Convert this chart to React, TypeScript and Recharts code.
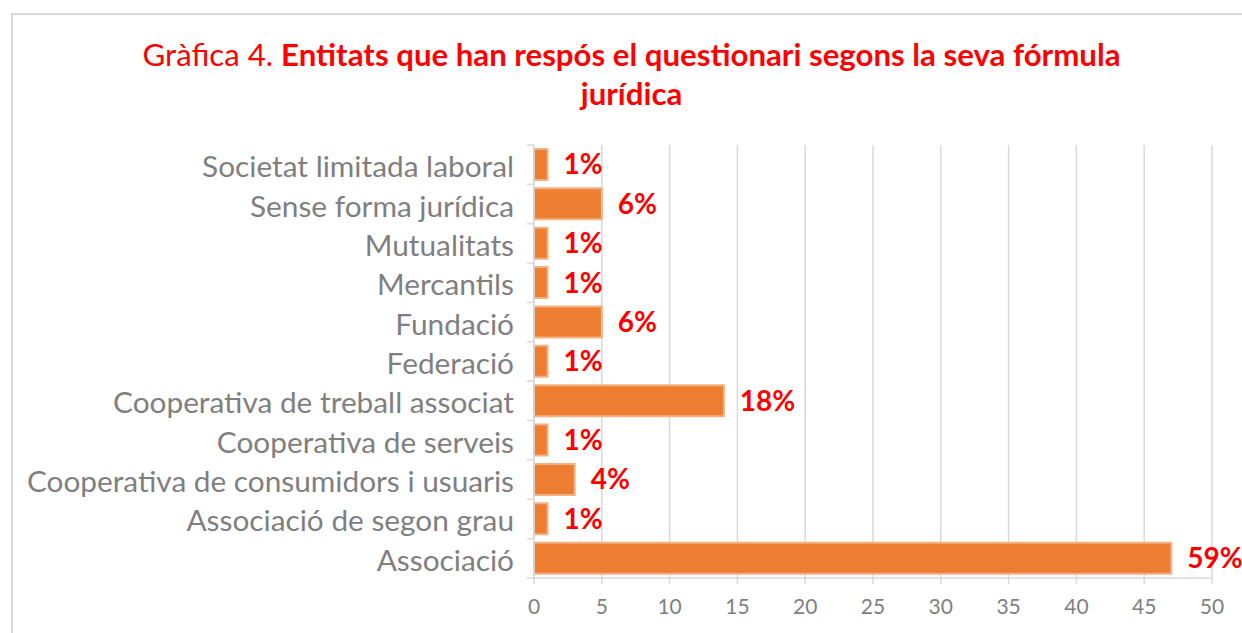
import React from "react";
import { BarChart, Bar, XAxis, YAxis, CartesianGrid, LabelList } from "recharts";

const categories = [
  "Societat limitada laboral",
  "Sense forma jurídica",
  "Mutualitats",
  "Mercantils",
  "Fundació",
  "Federació",
  "Cooperativa de treball associat",
  "Cooperativa de serveis",
  "Cooperativa de consumidors i usuaris",
  "Associació de segon grau",
  "Associació",
];
const values = [1, 5, 1, 1, 5, 1, 14, 1, 3, 1, 47];
const percentLabels = ["1%", "6%", "1%", "1%", "6%", "1%", "18%", "1%", "4%", "1%", "59%"];
const xTicks = [0, 5, 10, 15, 20, 25, 30, 35, 40, 45, 50];

const data = categories.map((name, i) => ({ name, value: values[i], label: percentLabels[i] }));

const FONT = "Lato, 'Open Sans', sans-serif";
const GRID = "#d9d9d9";
const GRAY = "#7f7f7f";

const YTick = (props: any) => {
  const { x, y, payload, index } = props;
  const half = payload.offset || 0;
  return (
    <g>
      <text x={x - 20} y={y + 1} textAnchor="end" dominantBaseline="central" fill={GRAY} fontSize={29.8} fontFamily={FONT}>
        {payload.value}
      </text>
      <line x1={x - 7} x2={x} y1={y - half} y2={y - half} stroke={GRID} strokeWidth={1.5} />
      {index === categories.length - 1 && (
        <line x1={x - 7} x2={x} y1={y + half} y2={y + half} stroke={GRID} strokeWidth={1.5} />
      )}
    </g>
  );
};

export default function App() {
  return (
    <div style={{ position: "absolute", left: 0, top: 0, width: 1242, height: 633, overflow: "hidden", background: "#fff" }}>
      <div style={{ position: "absolute", left: 11, top: 13, width: 1300, height: 700, border: `2px solid ${GRID}` }} />
      <div
        style={{
          position: "absolute",
          left: 11,
          top: 35,
          width: 1241,
          textAlign: "center",
          color: "#ff0000",
          fontFamily: FONT,
          fontSize: 31.2,
          lineHeight: "39px",
        }}
      >
        Gràfica 4. <b>Entitats que han respós el questionari segons la seva fórmula</b>
        <br />
        <b>jurídica</b>
      </div>
      <div style={{ position: "absolute", left: 0, top: 0 }}>
        <BarChart
          width={1242}
          height={633}
          data={data}
          layout="vertical"
          margin={{ top: 145, right: 30, bottom: 15, left: 0 }}
          barSize={31}
        >
          <CartesianGrid horizontal={false} stroke={GRID} strokeWidth={1.5} />
          <XAxis
            type="number"
            domain={[0, 50]}
            ticks={xTicks}
            interval={0}
            height={40}
            axisLine={{ stroke: GRID, strokeWidth: 1.5 }}
            tickLine={{ stroke: GRID, strokeWidth: 1.5 }}
            tickSize={6}
            tickMargin={15}
            tick={{ fill: GRAY, fontSize: 21, fontFamily: FONT }}
          />
          <YAxis
            type="category"
            dataKey="name"
            width={534}
            interval={0}
            axisLine={{ stroke: GRID, strokeWidth: 1.5 }}
            tickLine={false}
            tickSize={0}
            tickMargin={0}
            tick={<YTick />}
          />
          <Bar dataKey="value" fill="#ed7d31" stroke="#f4b183" strokeWidth={2} isAnimationActive={false}>
            <LabelList
              dataKey="label"
              position="right"
              offset={16}
              fill="#ff0000"
              fontSize={28}
              fontWeight="bold"
              fontFamily={FONT}
            />
          </Bar>
        </BarChart>
      </div>
    </div>
  );
}
